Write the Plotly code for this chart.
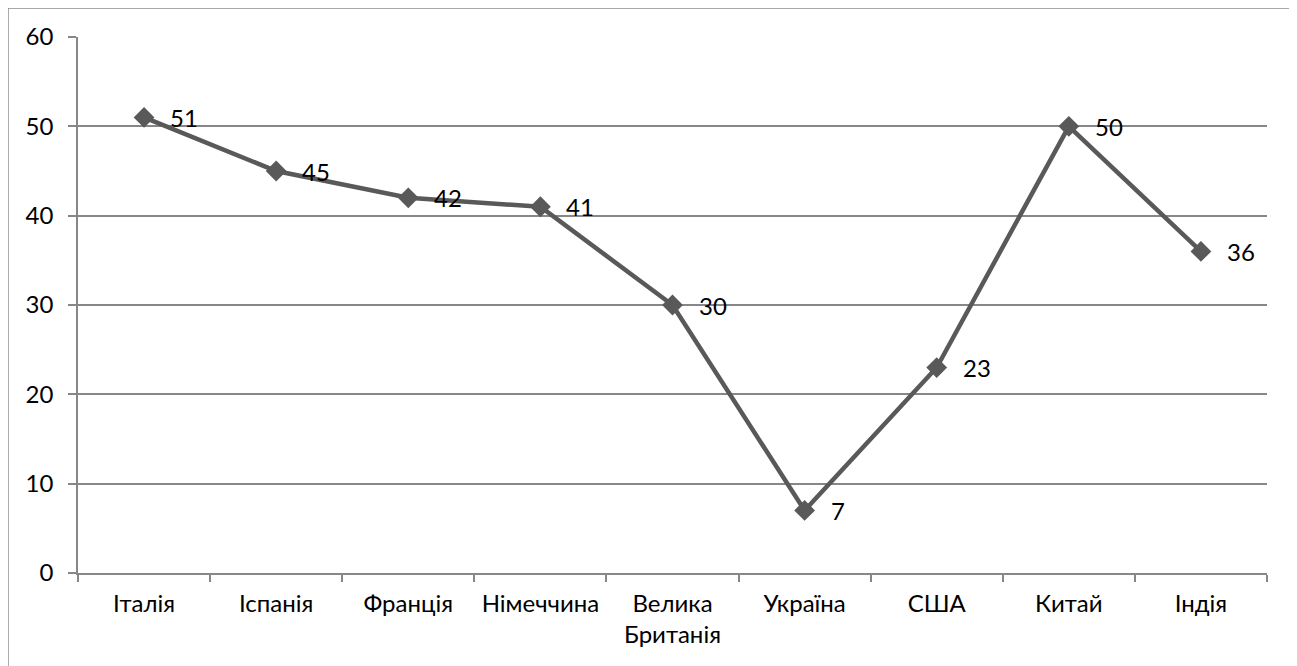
import plotly.graph_objects as go

categories = ["Італія", "Іспанія", "Франція", "Німеччина", "Велика<br>Британія",
              "Україна", "США", "Китай", "Індія"]
values = [51, 45, 42, 41, 30, 7, 23, 50, 36]

line_color = "#595959"
grid_color = "#878787"
font_family = "Lato, Carlito, 'Liberation Sans', sans-serif"
fsize = 24

fig = go.Figure()
fig.add_trace(go.Scatter(
    x=categories, y=values, mode="lines+markers",
    line=dict(color=line_color, width=4.5),
    marker=dict(symbol="diamond", size=16, color=line_color),
    showlegend=False, hoverinfo="x+y",
))

for c, v in zip(categories, values):
    fig.add_annotation(x=c, y=v, text=str(v), showarrow=False,
                       xanchor="left", yanchor="middle", xshift=24,
                       font=dict(size=fsize, color="#000000", family=font_family))

fig.add_shape(type="rect", xref="paper", yref="paper",
              x0=-0.0589, x1=1.0227, y0=-0.3, y1=1.054,
              line=dict(color="#8c8c8c", width=1.5), layer="below")

fig.update_layout(
    width=1289, height=658,
    margin=dict(l=70, r=30, t=29, b=93),
    paper_bgcolor="white", plot_bgcolor="white",
    font=dict(family=font_family, size=fsize, color="#000000"),
    xaxis=dict(
        type="category", showgrid=False, showline=True,
        linecolor=grid_color, linewidth=1.5,
        ticks="outside", tickson="boundaries", ticklen=7,
        tickcolor=grid_color, tickwidth=1.5,
        range=[-0.5, len(categories) - 0.5],
        tickfont=dict(size=fsize), ticklabelstandoff=8,
    ),
    yaxis=dict(
        range=[0, 60], dtick=10, showgrid=True, gridcolor=grid_color,
        gridwidth=1.5, showline=True, linecolor=grid_color, linewidth=1.5,
        ticks="outside", ticklen=8, tickcolor=grid_color, tickwidth=1.5,
        zeroline=False, tickfont=dict(size=fsize), ticklabelstandoff=10,
    ),
)

fig.write_html("out.html")
